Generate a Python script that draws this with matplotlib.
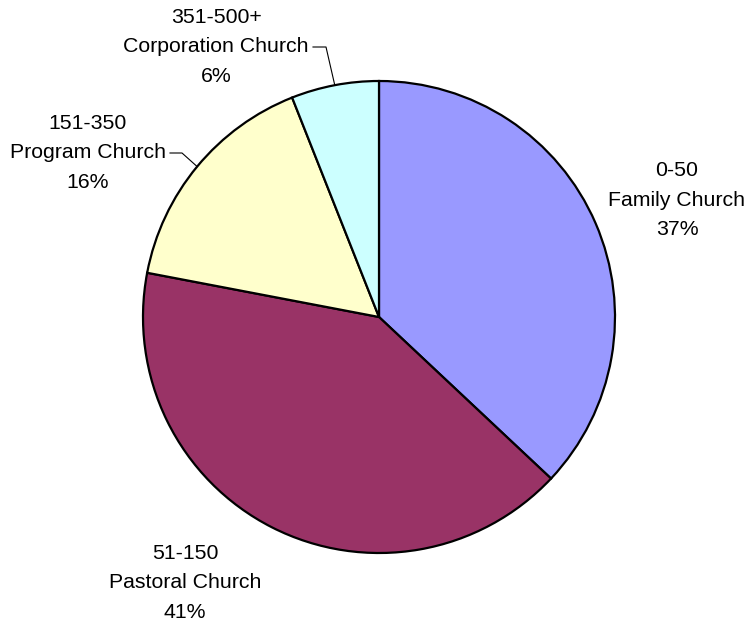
import numpy as np
import matplotlib.pyplot as plt

plt.rcParams['font.family'] = ['Liberation Sans', 'DejaVu Sans']

# church size categories and share of churches
sizes = ['0-50', '51-150', '151-350', '351-500+']
names = ['Family Church', 'Pastoral Church', 'Program Church', 'Corporation Church']
shares = [37, 41, 16, 6]
colors = ['#9999FF', '#993366', '#FFFFCC', '#CCFFFF']

W, H = 746, 623
cx, cy, r = 379, 317, 236  # pie centre / radius in pixels

fig = plt.figure(figsize=(W / 100, H / 100), dpi=100)
ax = fig.add_axes([(cx - r) / W, (H - cy - r) / H, 2 * r / W, 2 * r / H])
ax.axis('off')

wedges, _ = ax.pie(shares, colors=colors, startangle=90, counterclock=False,
                   radius=1, wedgeprops=dict(edgecolor='black', linewidth=1.6))
ax.set_xlim(-1, 1)
ax.set_ylim(-1, 1)


def px(x, y):
    # pixel position -> data coords
    return (x - cx) / r, (cy - y) / r


# label centres (pixels), and the leader stub x-range if any
label_pos = [(677, 200), (185, 583), (88, 153), (216, 47)]
leader = [None, None, (170, 182), (313, 326)]

for i, w in enumerate(wedges):
    tx, ty = px(*label_pos[i])
    ax.text(tx, ty, f"{sizes[i]}\n{names[i]}\n{shares[i]}%", ha='center', va='center',
            fontsize=15.3, linespacing=1.7, clip_on=False)
    if leader[i] is not None:
        mid = np.deg2rad((w.theta1 + w.theta2) / 2)
        ex, ey = np.cos(mid), np.sin(mid)
        x0, _ = px(leader[i][0], 0)
        x1, _ = px(leader[i][1], 0)
        ax.plot([x0, x1, ex], [ty, ty, ey], color='black', lw=0.8, clip_on=False)

fig.savefig('out.png', dpi=100)
